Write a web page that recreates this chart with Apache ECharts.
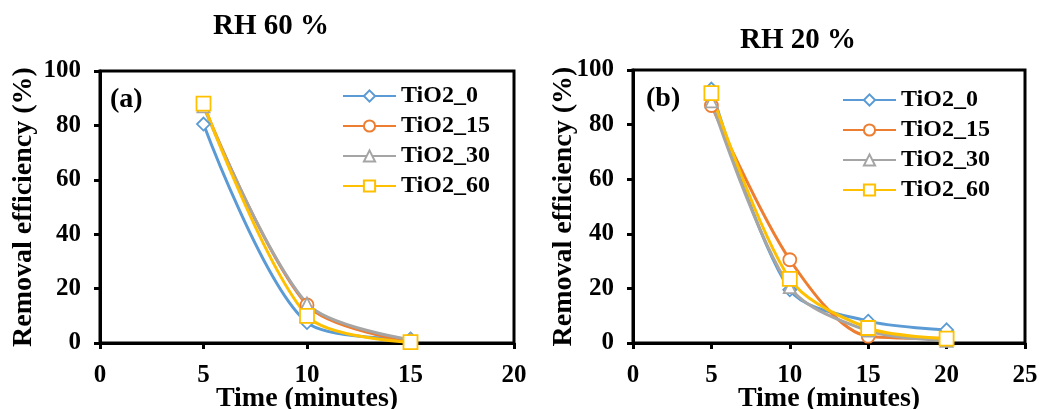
<!DOCTYPE html>
<html>
<head>
<meta charset="utf-8">
<script src="https://cdn.jsdelivr.net/npm/echarts@6/dist/echarts.min.js"></script>
<style>
  html, body { margin: 0; padding: 0; background: #fff; }
  #main { width: 1040px; height: 409px; }
</style>
</head>
<body>
<div id="main"></div>
<script>
// sampling times (minutes)
var timesA = [5, 10, 15];
var timesB = [5, 10, 15, 20];

var seriesNames = ['TiO2_0', 'TiO2_15', 'TiO2_30', 'TiO2_60'];

// (a) RH 60 %
var tio2_0_a = [80.5, 7.5, 1.5];
var tio2_15_a = [87.5, 14, 0.5];
var tio2_30_a = [87, 14.5, 1.2];
var tio2_60_a = [88, 10, 0.3];

// (b) RH 20 %
var tio2_0_b = [93, 19.5, 8, 4.8];
var tio2_15_b = [87, 30.5, 2.5, 1.7];
var tio2_30_b = [88.5, 20.5, 4.5, 0.8];
var tio2_60_b = [91.5, 23.5, 5.5, 1.6];

var yTicks = [0, 20, 40, 60, 80, 100];

var colors = ['#5B9BD5', '#ED7D31', '#A5A5A5', '#FFC000'];
var symbols = ['diamond', 'circle', 'triangle', 'rect'];
var symSizes = [13, 13, 12, 14];
var FONT = "'Liberation Serif', 'Times New Roman', serif";

function pairs(xs, ys) {
  var out = [];
  for (var i = 0; i < xs.length; i++) out.push([xs[i], ys[i]]);
  return out;
}

function makeSeries(idx, xi, xs, ys) {
  return {
    name: seriesNames[idx],
    type: 'line',
    xAxisIndex: xi,
    yAxisIndex: xi,
    smooth: 0.3,
    data: pairs(xs, ys),
    symbol: symbols[idx],
    symbolSize: symSizes[idx],
    showAllSymbol: true,
    lineStyle: { color: colors[idx], width: 3 },
    itemStyle: { color: '#fff', borderColor: colors[idx], borderWidth: 1.8 },
    emphasis: { disabled: true }
  };
}

function xAxisDef(gi, max) {
  return {
    type: 'value', gridIndex: gi, min: 0, max: max, interval: 5,
    name: 'Time (minutes)', nameLocation: 'middle', nameGap: 42, nameMoveOverlap: false,
    nameTextStyle: { fontFamily: FONT, fontWeight: 'bold', fontSize: 28, color: '#000' },
    axisLine: { show: true, onZero: false, lineStyle: { color: '#000', width: 3 } },
    axisTick: { show: true, length: 6, lineStyle: { color: '#000', width: 3 } },
    axisLabel: { fontFamily: FONT, fontWeight: 'bold', fontSize: 25, color: '#000', margin: 20 },
    splitLine: { show: false }
  };
}

function yAxisDef(gi, gap) {
  return {
    type: 'value', gridIndex: gi, min: yTicks[0], max: yTicks[yTicks.length - 1], interval: 20,
    name: 'Removal efficiency (%)', nameLocation: 'middle', nameGap: gap, nameMoveOverlap: false,
    nameTextStyle: { fontFamily: FONT, fontWeight: 'bold', fontSize: 28, color: '#000' },
    axisLine: { show: true, lineStyle: { color: '#000', width: 3 } },
    axisTick: { show: true, length: 6, lineStyle: { color: '#000', width: 3 } },
    axisLabel: { fontFamily: FONT, fontWeight: 'bold', fontSize: 25, color: '#000', margin: 19 },
    splitLine: { show: false }
  };
}

function legendDef(left, top) {
  return {
    orient: 'vertical', left: left, top: top, padding: 0,
    itemWidth: 53, itemHeight: 14, itemGap: 6,
    selectedMode: false,
    data: seriesNames,
    textStyle: { fontFamily: FONT, fontWeight: 'bold', fontSize: 24, color: '#000' }
  };
}

var series = [];
var aData = [tio2_0_a, tio2_15_a, tio2_30_a, tio2_60_a];
var bData = [tio2_0_b, tio2_15_b, tio2_30_b, tio2_60_b];
for (var i = 0; i < 4; i++) series.push(makeSeries(i, 0, timesA, aData[i]));
for (var j = 0; j < 4; j++) series.push(makeSeries(j, 1, timesB, bData[j]));

var chart = echarts.init(document.getElementById('main'));
chart.setOption({
  backgroundColor: '#fff',
  animation: false,
  grid: [
    { left: 100, right: 526, top: 71, bottom: 66, show: true, borderColor: '#000', borderWidth: 3, containLabel: false, outerBoundsMode: 'none' },
    { left: 633, right: 15, top: 70, bottom: 66, show: true, borderColor: '#000', borderWidth: 3, containLabel: false, outerBoundsMode: 'none' }
  ],
  xAxis: [xAxisDef(0, 20), xAxisDef(1, 25)],
  yAxis: [yAxisDef(0, 62), yAxisDef(1, 55)],
  legend: [legendDef(342, 84), legendDef(842, 88)],
  graphic: [
    { type: 'text', x: 271, y: 27, style: { text: 'RH 60 %', font: 'bold 29px ' + FONT, fill: '#000', align: 'center', verticalAlign: 'middle' } },
    { type: 'text', x: 798, y: 41, style: { text: 'RH 20 %', font: 'bold 29px ' + FONT, fill: '#000', align: 'center', verticalAlign: 'middle' } },
    { type: 'text', x: 110, y: 100, style: { text: '(a)', font: 'bold 28px ' + FONT, fill: '#000', align: 'left', verticalAlign: 'middle' } },
    { type: 'text', x: 646, y: 99, style: { text: '(b)', font: 'bold 28px ' + FONT, fill: '#000', align: 'left', verticalAlign: 'middle' } }
  ],
  series: series
});
</script>
</body>
</html>
